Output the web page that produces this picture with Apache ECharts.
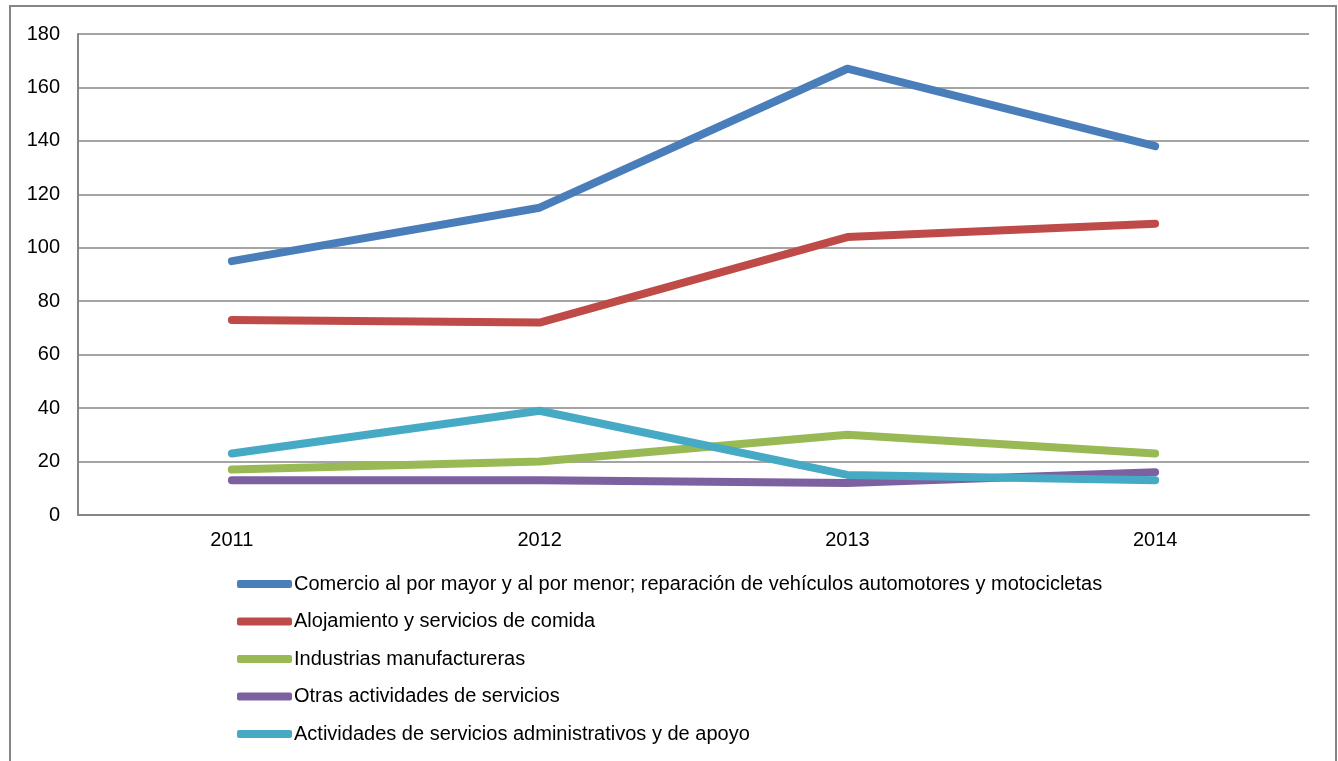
<!DOCTYPE html>
<html>
<head>
<meta charset="utf-8">
<style>
html,body{margin:0;padding:0;background:#fff;}
#chart{width:1338px;height:761px;}
</style>
<script src="https://cdn.jsdelivr.net/npm/echarts@6/dist/echarts.min.js"></script>
</head>
<body>
<div id="chart"></div>
<script>
var categories = ['2011', '2012', '2013', '2014'];
var seriesNames = [
  'Comercio al por mayor y al por menor; reparación de vehículos automotores y motocicletas',
  'Alojamiento y servicios de comida',
  'Industrias manufactureras',
  'Otras actividades de servicios',
  'Actividades de servicios administrativos y de apoyo'
];
var comercio = [95, 115, 167, 138];
var alojamiento = [73, 72, 104, 109];
var industrias = [17, 20, 30, 23];
var otras = [13, 13, 12, 16];
var administrativos = [23, 39, 15, 13];
var colors = ['#4A7EBB', '#BE4B48', '#98B954', '#7D60A0', '#46AAC5'];
var allValues = [comercio, alojamiento, industrias, otras, administrativos];

var chart = echarts.init(document.getElementById('chart'));
var font = 'Liberation Sans, Arial, sans-serif';
chart.setOption({
  animation: false,
  textStyle: {fontFamily: font},
  graphic: [{
    type: 'rect',
    shape: {x: 10, y: 6, width: 1326, height: 800},
    style: {fill: 'none', stroke: '#868686', lineWidth: 2},
    silent: true
  }],
  grid: {left: 78, top: 34, right: 29, bottom: 246, containLabel: false},
  xAxis: {
    type: 'category',
    data: categories,
    boundaryGap: true,
    axisLine: {lineStyle: {color: '#868686', width: 2}},
    axisTick: {show: false},
    axisLabel: {color: '#000', fontSize: 20, margin: 15, fontFamily: font}
  },
  yAxis: {
    type: 'value',
    min: 0, max: 180, interval: 20,
    axisLine: {show: true, lineStyle: {color: '#868686', width: 2}},
    axisTick: {show: false},
    axisLabel: {color: '#000', fontSize: 20, margin: 18, fontFamily: font},
    splitLine: {lineStyle: {color: '#868686', width: 1.5}}
  },
  legend: {
    orient: 'vertical',
    left: 232,
    top: 569,
    itemWidth: 55,
    itemHeight: 8,
    itemGap: 17.5,
    icon: 'roundRect',
    textStyle: {color: '#000', fontSize: 20, fontFamily: font, padding: [0,0,0,-3]},
    data: seriesNames
  },
  series: seriesNames.map(function(n, i){
    return {
      name: n,
      type: 'line',
      data: allValues[i],
      showSymbol: false,
      symbol: 'none',
      itemStyle: {color: colors[i]},
      lineStyle: {color: colors[i], width: 8, cap: 'round', join: 'round'}
    };
  })
});
</script>
</body>
</html>
